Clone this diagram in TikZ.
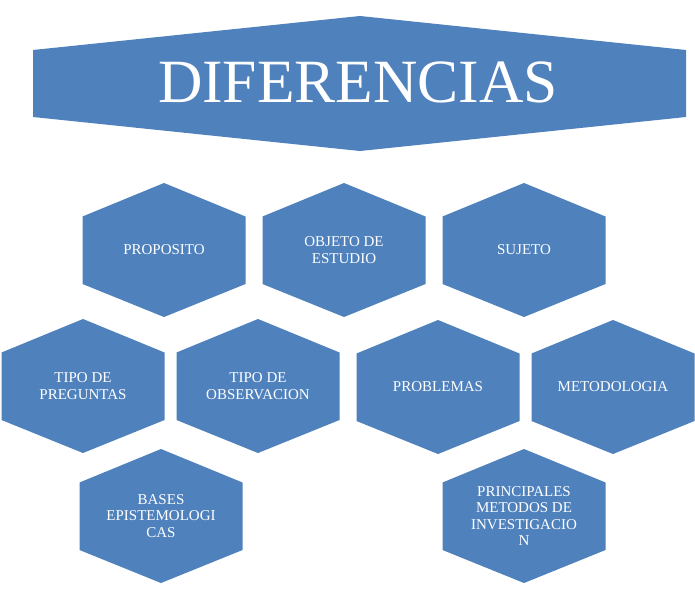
\documentclass[tikz,border=0pt]{standalone}
\usepackage{fontspec}
\setmainfont{Liberation Serif}
\definecolor{hexblue}{HTML}{4F81BD}
\tikzset{
  hexfill/.style={fill=hexblue},
  hexlabel/.style={text=white, align=center, font=\fontsize{15}{16.5}\selectfont, inner sep=0pt},
  titlelabel/.style={text=white, font=\fontsize{61.5}{64}\selectfont, inner sep=0pt}
}
\newcommand\hexcell[4]{%
  \fill[hexfill,shift={(#2,#3)}] (-81.5,-33.5) -- (0,-67) -- (81.5,-33.5) -- (81.5,34) -- (0,67) -- (-81.5,34) -- cycle;
  \node[hexlabel] (#1) at (#2,#3) {#4};}
\begin{document}
\begin{tikzpicture}[x=1pt,y=-1pt]
\useasboundingbox (0,0) rectangle (695,589);
\fill[white] (0,0) rectangle (695,589);
\fill[hexfill] (33,50) -- (360,16) -- (686,50) -- (686,117) -- (360,151) -- (33,117) -- cycle;
\node[titlelabel] (title) at (358,82) {DIFERENCIAS};
\hexcell{proposito}{164}{250}{PROPOSITO}
\hexcell{objeto}{344}{250}{OBJETO DE\\ESTUDIO}
\hexcell{sujeto}{524}{250}{SUJETO}
\hexcell{preguntas}{83}{386}{TIPO DE\\PREGUNTAS}
\hexcell{observacion}{258}{386}{TIPO DE\\OBSERVACION}
\hexcell{problemas}{438}{387}{PROBLEMAS}
\hexcell{metodologia}{613}{387}{METODOLOGIA}
\hexcell{bases}{161}{516}{BASES\\EPISTEMOLOGI\\CAS}
\hexcell{principales}{524}{516}{PRINCIPALES\\METODOS DE\\INVESTIGACIO\\N}
\end{tikzpicture}
\end{document}
